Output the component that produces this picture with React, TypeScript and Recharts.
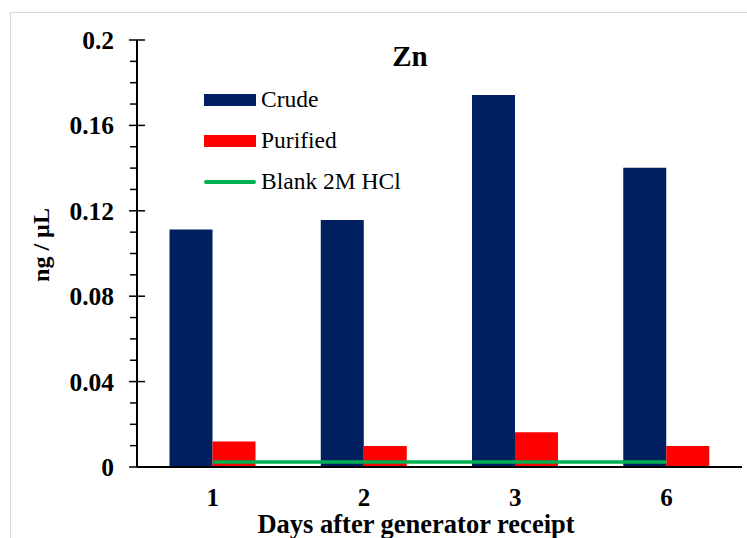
import React from "react";
import { Bar, ComposedChart, Line, XAxis, YAxis } from "recharts";

const days = ["1", "2", "3", "6"];
const crude = [0.1112, 0.1157, 0.1742, 0.1402];
const purified = [0.0119, 0.0098, 0.0163, 0.0098];
const blank = [0.0023, 0.0023, 0.0023, 0.0023];

const majorTicks = [0, 0.04, 0.08, 0.12, 0.16, 0.2];
const minorTicks = [
  0.01, 0.02, 0.03, 0.05, 0.06, 0.07, 0.09, 0.1, 0.11, 0.13, 0.14, 0.15, 0.17, 0.18, 0.19,
];

const FONT = '"Liberation Serif", "Times New Roman", Times, serif';
const CRUDE = "#002060";
const PURIFIED = "#ff0000";
const BLANK = "#00b050";

const data = days.map((day, i) => ({
  day,
  crude: crude[i],
  purified: purified[i],
  blank: blank[i],
}));

const allTicks = [...majorTicks, ...minorTicks].sort((a, b) => a - b);

// major ticks cross the axis and carry a label, minor ticks sit outside only
function YTick(props: any) {
  const { x, y, payload } = props;
  const isMajor = majorTicks.includes(payload.value);
  if (!isMajor) {
    return <line x1={x - 7} x2={x} y1={y} y2={y} stroke="#000" strokeWidth={1.5} />;
  }
  return (
    <g>
      <line x1={x - 8} x2={x + 8} y1={y} y2={y} stroke="#000" strokeWidth={1.5} />
      <text
        x={x - 23}
        y={y}
        dy="0.35em"
        textAnchor="end"
        style={{ fontFamily: FONT, fontWeight: "bold", fontSize: 25.5 }}
        fill="#000"
      >
        {String(payload.value)}
      </text>
    </g>
  );
}

// legend sits inside the plot, top-left
function LegendBox() {
  const rows = [
    { name: "Crude", color: CRUDE, kind: "bar" },
    { name: "Purified", color: PURIFIED, kind: "bar" },
    { name: "Blank 2M HCl", color: BLANK, kind: "line" },
  ];
  return (
    <div
      style={{
        position: "absolute",
        left: 204,
        top: 79,
        fontFamily: FONT,
        fontSize: 23.5,
        color: "#000",
      }}
    >
      {rows.map((r) => (
        <div key={r.name} style={{ display: "flex", alignItems: "center", height: 41 }}>
          <div
            style={{
              width: 52,
              height: r.kind === "bar" ? 12 : 4,
              background: r.color,
              borderRadius: r.kind === "bar" ? 0 : 2,
              marginRight: 5,
            }}
          />
          <span style={{ lineHeight: 1 }}>{r.name}</span>
        </div>
      ))}
    </div>
  );
}

export default function App() {
  return (
    <div style={{ position: "absolute", left: 0, top: 0, width: 747, height: 538, background: "#fff" }}>
      <div
        style={{
          position: "absolute",
          left: 10,
          top: 12,
          width: 737,
          height: 526,
          borderLeft: "1.5px solid #d9d9d9",
          borderTop: "1.5px solid #d9d9d9",
        }}
      />
      <ComposedChart
        width={747}
        height={538}
        data={data}
        margin={{ top: 40, right: 5, left: 0, bottom: 0 }}
        barCategoryGap="21.5%"
        barGap={0}
        style={{ position: "absolute", left: 0, top: 0 }}
      >
        <XAxis
          dataKey="day"
          height={71}
          tickLine={false}
          tickSize={0}
          tickMargin={21}
          axisLine={{ stroke: "#000", strokeWidth: 2 }}
          tick={{ fill: "#000", fontFamily: FONT, fontWeight: "bold", fontSize: 25 }}
          label={{
            content: () => (
              <text
                x={416}
                y={533}
                textAnchor="middle"
                style={{ fontFamily: FONT, fontWeight: "bold", fontSize: 26.5 }}
                fill="#000"
              >
                Days after generator receipt
              </text>
            ),
          }}
        />
        <YAxis
          width={137}
          domain={[0, 0.2]}
          ticks={allTicks}
          interval={0}
          tickLine={false}
          tickSize={0}
          tickMargin={0}
          axisLine={{ stroke: "#000", strokeWidth: 2 }}
          tick={<YTick />}
          label={{
            content: () => (
              <text
                x={41}
                y={245}
                dy="0.35em"
                transform="rotate(-90 41 245)"
                textAnchor="middle"
                style={{ fontFamily: FONT, fontWeight: "bold", fontSize: 24 }}
                fill="#000"
              >
                ng / µL
              </text>
            ),
          }}
        />
        <Bar dataKey="crude" name="Crude" fill={CRUDE} isAnimationActive={false} />
        <Bar dataKey="purified" name="Purified" fill={PURIFIED} isAnimationActive={false} />
        <Line
          dataKey="blank"
          name="Blank 2M HCl"
          stroke={BLANK}
          strokeWidth={3.5}
          dot={false}
          type="linear"
          isAnimationActive={false}
        />
      </ComposedChart>
      <div
        style={{
          position: "absolute",
          left: 350,
          top: 42,
          width: 120,
          textAlign: "center",
          fontFamily: FONT,
          fontWeight: "bold",
          fontSize: 29,
          lineHeight: 1,
        }}
      >
        Zn
      </div>
      <LegendBox />
    </div>
  );
}
